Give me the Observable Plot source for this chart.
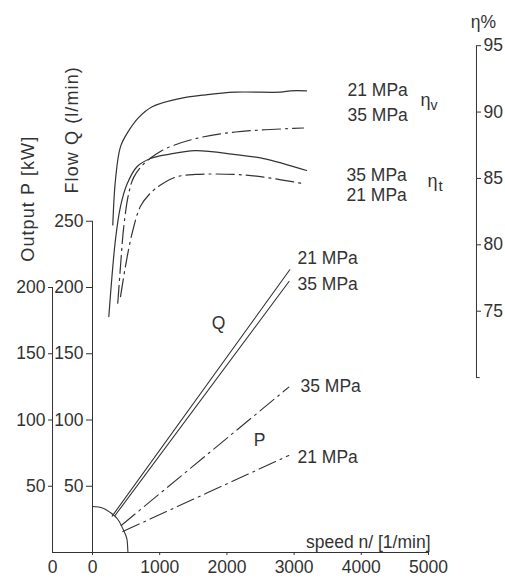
<!DOCTYPE html>
<html><head><meta charset="utf-8">
<script src="https://cdn.jsdelivr.net/npm/d3@7"></script>
<script src="https://cdn.jsdelivr.net/npm/@observablehq/plot@0.6"></script>
<style>body{margin:0;background:#fff} svg{display:block}</style>
</head><body>
<div id="chart"></div>
<script>
// ---- data ----
const speedTicks = [0, 1000, 2000, 3000, 4000, 5000];
const flowTicks = [50, 100, 150, 200, 250];
const powerTicks = [50, 100, 150, 200];
const etaTicks = [75, 80, 85, 90, 95];

// efficiency curves [speed 1/min, eta %]
const etaV21 = [[302,81.5],[342,84.9],[417,87.4],[540,88.6],[689,89.6],[888,90.4],[1280,91.0],[1682,91.3],[2128,91.5],[2798,91.5],[2946,91.6],[3185,91.6]];
const etaV35 = [[376,75.6],[417,78.4],[466,81.4],[540,83.9],[615,85.1],[763,86.1],[938,86.8],[1112,87.3],[1533,88.0],[2128,88.5],[3140,88.8]];
const etaT35 = [[243,74.6],[342,80.4],[417,82.9],[516,84.6],[665,85.9],[863,86.5],[1112,86.8],[1533,87.1],[2128,86.8],[2549,86.5],[3185,85.6]];
const etaT21 = [[417,76.1],[491,78.4],[591,80.9],[714,82.9],[863,83.9],[1012,84.5],[1235,85.1],[1533,85.3],[2128,85.3],[2549,85.1],[3144,84.6]];

// flow Q (l/min) and output P (kW) lines
const flowSpeed21 = [293, 2936], flowQ21 = [27.5, 213.4];
const flowSpeed35 = [335, 2924], flowQ35 = [27.9, 204.5];
const powerSpeed35 = [427, 2921], powerP35 = [20.4, 124.8];
const powerSpeed21 = [451, 2921], powerP21 = [15.8, 73.2];

// quarter arc near the origin
const arcSpeed = [0, 149, 264, 373, 457, 510, 522, 528];
const arcValue = [34.7, 33.6, 30.2, 25.3, 17.4, 10.6, 5, 0];

// ---- helpers ----
const ink = "#333";
const etaToY = e => 132 + 10.02 * (e - 70);     // eta axis shares the y scale
const etaFromY = v => (v - 132) / 10.02 + 70;
const rows = (xs, ys) => xs.map((x, i) => ({x, y: ys[i]}));
const etaRows = a => a.map(([x, e]) => ({x, y: etaToY(e)}));
const dashDot = "18,5,2,5";
const xP = -595, xEta = 5714;   // data-x of the extra axes

const lab = (t, x, y, o = {}) => Plot.text([t], {x: () => x, y: () => y, textAnchor: "start", lineAnchor: "middle", fill: ink, fontSize: 17.5, ...o});

const chart = Plot.plot({
  width: 505, height: 581,
  marginLeft: 92, marginRight: 77, marginTop: 22, marginBottom: 29,
  x: {domain: [0, 5000]},
  y: {domain: [0, 400]},
  style: {fontFamily: "'Liberation Sans', Arial, sans-serif", fontSize: "17.5px", color: ink, background: "#fff"},
  marks: [
    // axes lines
    Plot.ruleY([0], {x1: xP, x2: 5000, stroke: ink}),
    Plot.ruleX([0], {y1: 0, y2: 250, stroke: ink}),
    Plot.ruleX([xP], {y1: 0, y2: 200, stroke: ink}),
    Plot.ruleX([xEta], {y1: etaToY(70), y2: etaToY(95), stroke: ink}),
    Plot.ruleY([etaToY(70)], {x1: xEta, x2: xEta + 55, stroke: ink}),
    Plot.axisX(speedTicks, {tickSize: 3, tickPadding: 5, label: null, fill: ink, tickFormat: d => String(d)}),
    Plot.axisY(flowTicks, {anchor: "left", tickSize: 6, tickPadding: 3, label: null, fill: ink}),
    Plot.axisY(powerTicks, {anchor: "left", tickSize: 4, tickPadding: 3, dx: -40, label: null, fill: ink}),
    Plot.axisY(etaTicks.map(etaToY), {anchor: "right", tickSize: 4, tickPadding: 3, dx: 48, label: null, fill: ink,
      tickFormat: v => String(Math.round(etaFromY(v)))}),
    Plot.text(["0"], {x: () => xP, y: () => 0, dy: 8, lineAnchor: "top", fill: ink}),

    // arc
    Plot.line(rows(arcSpeed, arcValue), {x: "x", y: "y", curve: "natural", stroke: ink, strokeWidth: 1.1}),

    // Q lines (solid) and P lines (dash-dot)
    Plot.line(rows(flowSpeed21, flowQ21), {x: "x", y: "y", stroke: ink, strokeWidth: 1.1}),
    Plot.line(rows(flowSpeed35, flowQ35), {x: "x", y: "y", stroke: ink, strokeWidth: 1.1}),
    Plot.line(rows(powerSpeed35, powerP35), {x: "x", y: "y", stroke: ink, strokeWidth: 1.1, strokeDasharray: dashDot}),
    Plot.line(rows(powerSpeed21, powerP21), {x: "x", y: "y", stroke: ink, strokeWidth: 1.1, strokeDasharray: dashDot}),

    // efficiency curves
    Plot.line(etaRows(etaV21), {x: "x", y: "y", curve: "catmull-rom", stroke: ink, strokeWidth: 1.2}),
    Plot.line(etaRows(etaT35), {x: "x", y: "y", curve: "catmull-rom", stroke: ink, strokeWidth: 1.2}),
    Plot.line(etaRows(etaV35), {x: "x", y: "y", curve: "catmull-rom", stroke: ink, strokeWidth: 1.2, strokeDasharray: dashDot}),
    Plot.line(etaRows(etaT21), {x: "x", y: "y", curve: "catmull-rom", stroke: ink, strokeWidth: 1.2, strokeDasharray: dashDot}),

    // labels
    lab("21 MPa", 3051, 221.9),
    lab("35 MPa", 3051, 202.3),
    lab("35 MPa", 3095, 125.3),
    lab("21 MPa", 3051, 71.7),
    lab("Q", 1875, 172.8, {textAnchor: "middle"}),
    lab("P", 2485, 84.5, {textAnchor: "middle"}),
    lab("21 MPa", 3795, etaToY(91.63)),
    lab("35 MPa", 3795, etaToY(89.76)),
    lab("35 MPa", 3780, etaToY(85.26)),
    lab("21 MPa", 3780, etaToY(83.76)),
    lab("η", 4880, etaToY(90.9), {fontSize: 18}),
    lab("v", 5030, etaToY(90.5), {fontSize: 14}),
    lab("η", 4985, etaToY(84.8), {fontSize: 18}),
    lab("t", 5150, etaToY(84.4), {fontSize: 15}),
    lab("η%", 5630, etaToY(96.72), {fontSize: 17.5}),
    lab("speed n/ [1/min]", 5030, 7.8, {textAnchor: "end"}),
    lab("Output P [kW]", -952, 267, {rotate: -90, textAnchor: "middle", fontSize: 18}),
    lab("Flow Q (l/min)", -298, 319, {rotate: -90, textAnchor: "middle", fontSize: 18})
  ]
});
d3.select(chart).selectAll("text")
  .filter(function() { return /^(Output|Flow)/.test(this.textContent); })
  .attr("letter-spacing", "1.1px");
document.getElementById("chart").appendChild(chart);
</script></body></html>
